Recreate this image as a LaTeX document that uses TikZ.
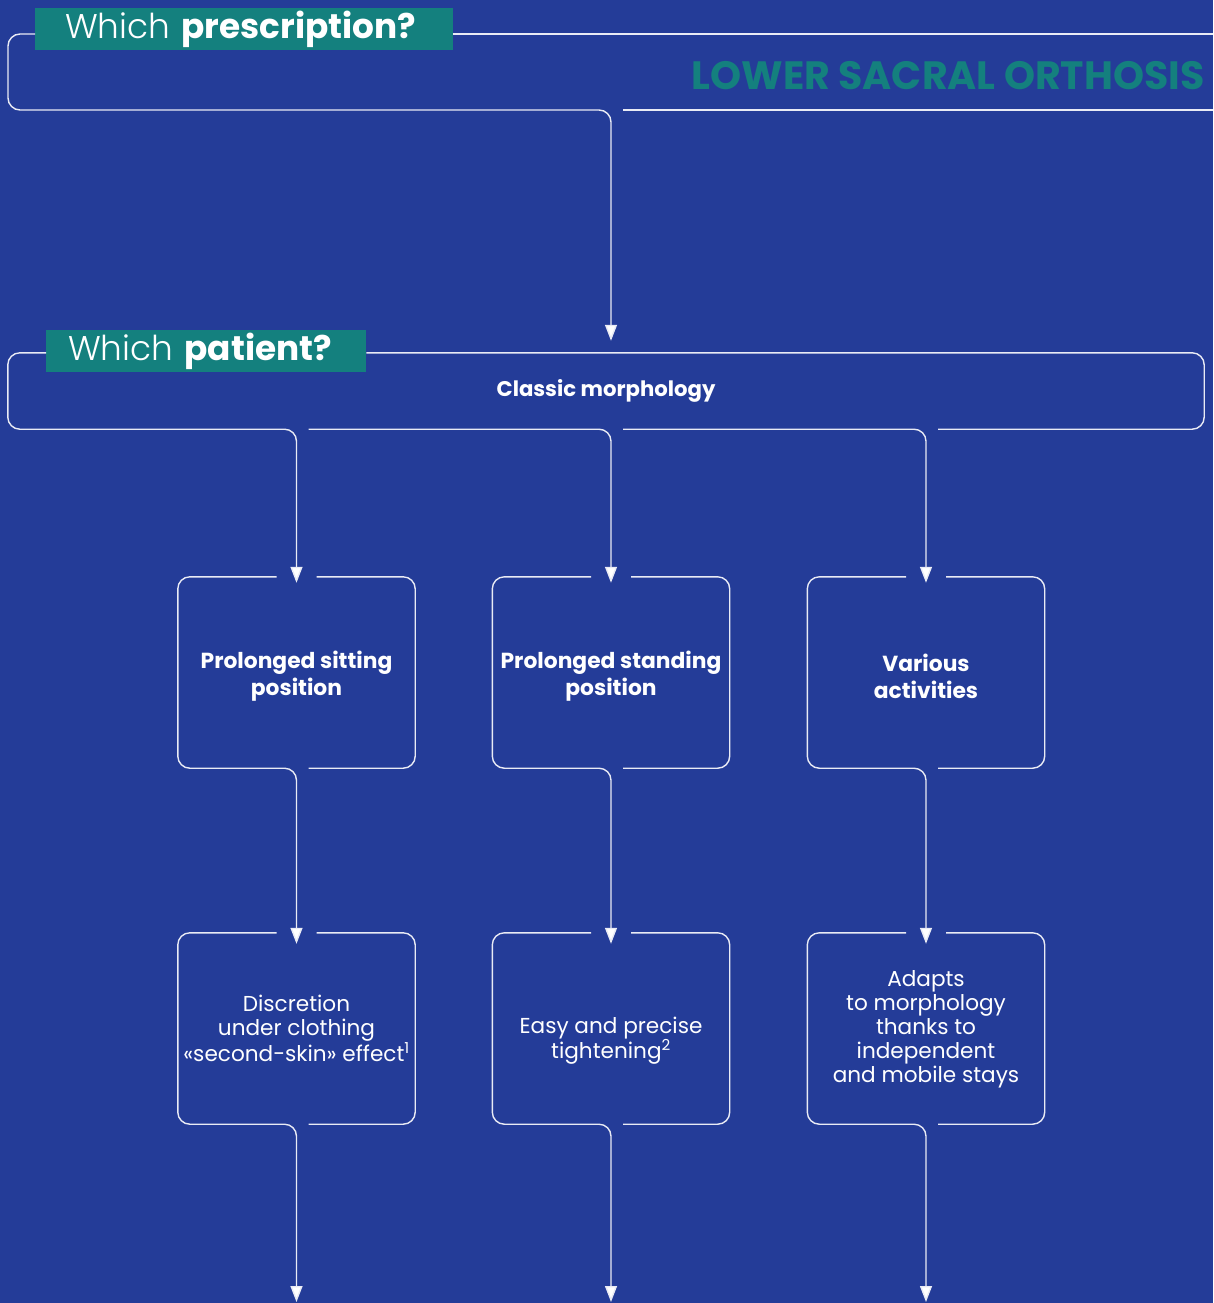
\documentclass[tikz,border=0pt]{standalone}
\usepackage{fontspec}
\setmainfont{Poppins}
\newfontfamily\lightfont{Poppins Light}
\usetikzlibrary{arrows.meta,calc}
\definecolor{bgblue}{HTML}{243C98}
\definecolor{orthteal}{HTML}{14807E}
\tikzset{
  frame/.style={draw=white!90!bgblue, line width=1.4pt, rounded corners=12pt},
  conn/.style={frame, -{Triangle[width=12pt,length=16pt,fill=white]}},
  tag/.style={fill=orthteal, anchor=north west, inner ysep=0pt, minimum height=42pt,
    align=left, text=white, font=\fontsize{34.3}{36}\selectfont},
  box/.style={minimum width=237pt, minimum height=191pt},
  choice/.style={align=center, text=white, font=\fontsize{21.8}{27}\selectfont\bfseries},
  benefit/.style={choice, font=\fontsize{21.6}{24}\selectfont}
}
\begin{document}
\begin{tikzpicture}[x=1pt,y=-1pt]
\fill[bgblue] (0,0) rectangle (1213,1303);
\useasboundingbox (0,0) rectangle (1213,1303);
% Headers
\node[tag, inner xsep=30pt, text width=358pt] (presc) at (35,8) {{\lightfont Which} \textbf{prescription?}};
\node[tag, inner xsep=22pt, text width=276pt] (ptag) at (46,330) {{\lightfont Which} \textbf{patient?}};
\node[anchor=base east, text=orthteal, font=\fontsize{39.5}{42}\selectfont\bfseries] (title) at (1208,90) {LOWER SACRAL ORTHOSIS};
\node[minimum width=1196pt, minimum height=76pt, text=white, font=\fontsize{21.2}{24}\selectfont\bfseries] (patient) at (606,391) {Classic morphology};
% Boxes
\foreach \n/\x/\y/\d/\t in {sit/296.5/672.5/4/{Prolonged sitting\\position}, stand/611/672.5/4/{Prolonged standing\\position}, var/926/672.5/4/{Various\\activities}} {
    \node[box] (\n) at (\x,\y) {};
    \node[choice] (\n txt) at ($(\n.center)+(0,\d)$) {\t};
}
\foreach \n/\x/\y/\d/\t in {disc/296.5/1028.5/0/{Discretion\\under clothing\\«second-skin» effect\textsuperscript{1}}, easy/611/1028.5/12/{Easy and precise\\tightening\textsuperscript{2}}, fit/926/1028.5/1/{Adapts\\to morphology\\thanks to\\independent\\and mobile stays}} {
    \node[box] (\n) at (\x,\y) {};
    \node[benefit] (\n txt) at ($(\n.center)+(0,\d)$) {\t};
}
\coordinate (drop) at (611,110);
\coordinate (bottom) at (0,1302);
% Top frame
\draw[frame] (presc.north east |- 0,34) -- (1213,34);
\draw[frame] (1213,110) -- ($(drop)+(12,0)$);
\draw[conn] (presc.north west |- 0,34) -- (8,34) -- (8,110) -- (drop) -- ($(drop |- patient.north)+(0,-12)$);
% Patient frame
\draw[frame] (ptag.north east |- patient.north) -- (patient.north east) -- (patient.south east) -- ($(var.north |- patient.south)+(12,0)$);
\draw[conn] (ptag.north west |- patient.north) -- (patient.north west) -- (patient.south west) -- (sit.north |- patient.south) -- ($(sit.north)+(0,6)$);
\draw[conn] ($(sit.north |- patient.south)+(12,0)$) -- (stand.north |- patient.south) -- ($(stand.north)+(0,6)$);
\draw[conn] ($(stand.north |- patient.south)+(12,0)$) -- (var.north |- patient.south) -- ($(var.north)+(0,6)$);
% Box outlines and links
\foreach \a/\b in {sit/disc, stand/easy, var/fit} {
    \draw[frame] ($(\a.north)+(20,0)$) -- (\a.north east) -- (\a.south east) -- ($(\a.south)+(12,0)$);
    \draw[conn] ($(\a.north)+(-20,0)$) -- (\a.north west) -- (\a.south west) -- (\a.south) -- ($(\b.north)+(0,11)$);
    \draw[frame] ($(\b.north)+(20,0)$) -- (\b.north east) -- (\b.south east) -- ($(\b.south)+(12,0)$);
    \draw[conn] ($(\b.north)+(-20,0)$) -- (\b.north west) -- (\b.south west) -- (\b.south) -- (\b.south |- bottom);
}
\end{tikzpicture}
\end{document}
